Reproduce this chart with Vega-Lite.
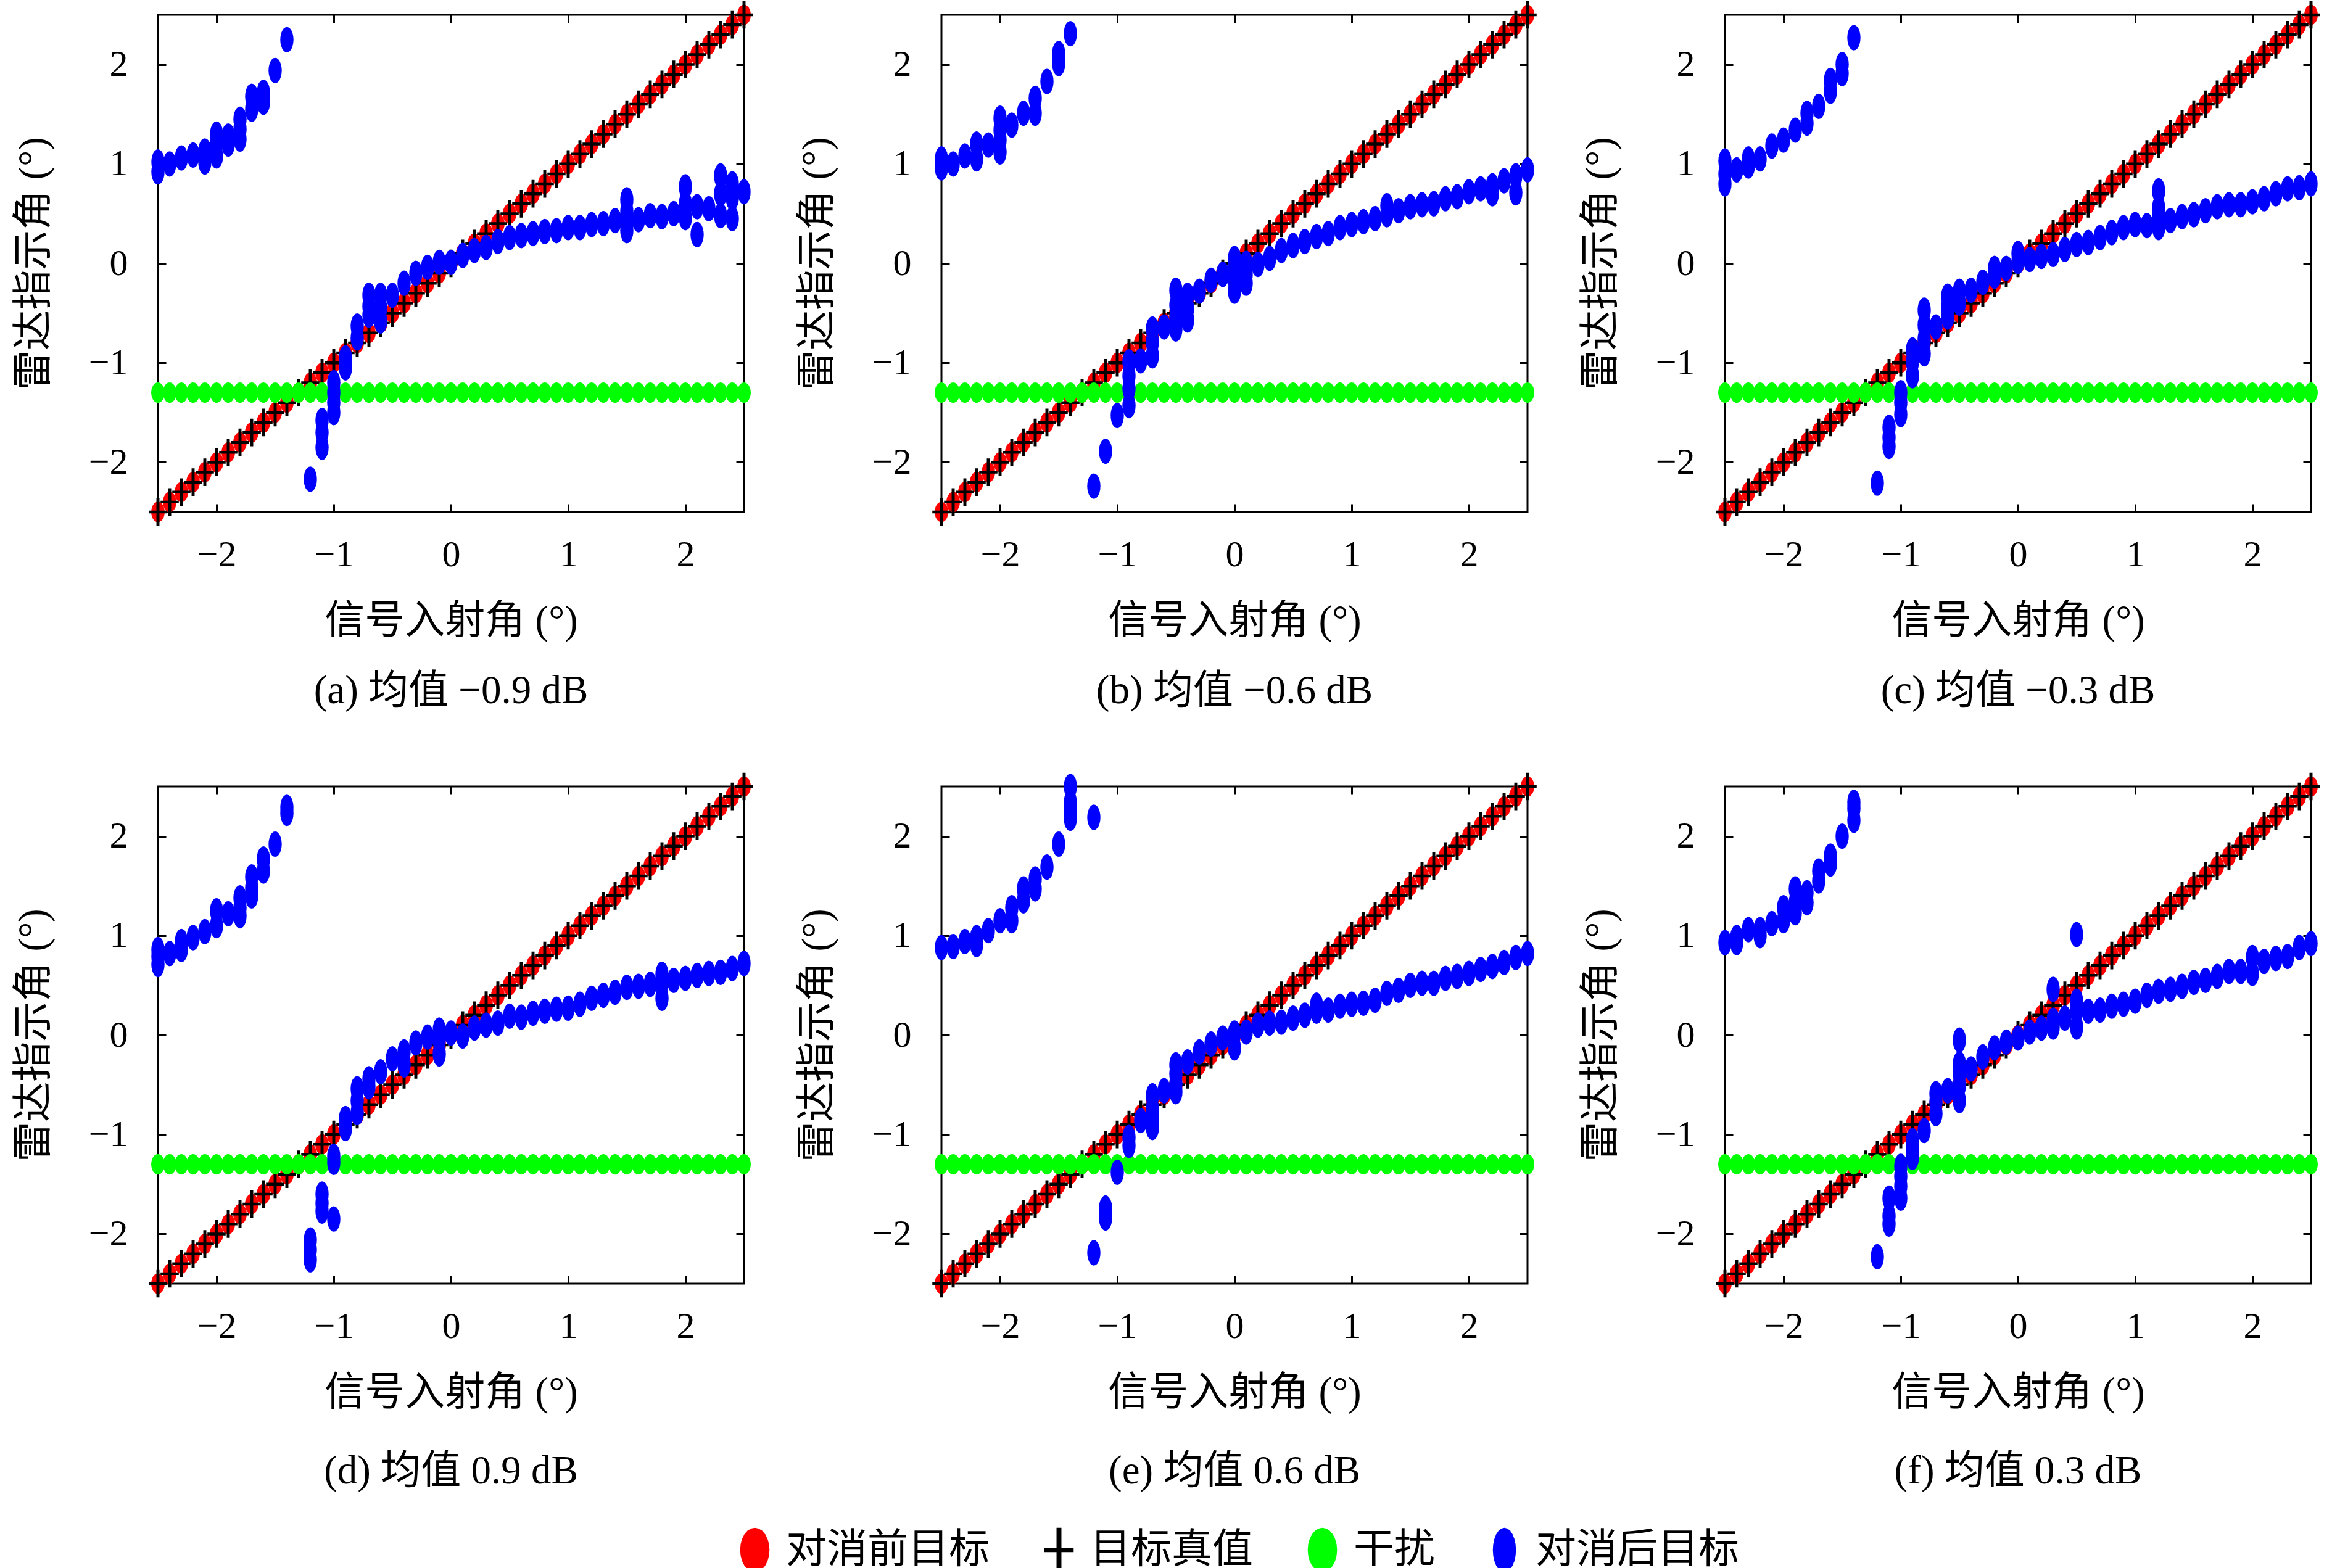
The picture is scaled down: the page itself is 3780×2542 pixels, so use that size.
{
  "$schema": "https://vega.github.io/schema/vega-lite/v6.json",
  "background": "white",
  "padding": {"left": 20, "top": 0, "right": 20, "bottom": 10},
  "columns": 3,
  "spacing": {"row": 445, "column": 320},
  "bounds": "flush",
  "datasets": {
    "diag": [
      {"x":-2.5,"y":-2.5},{"x":-2.4,"y":-2.4},{"x":-2.3,"y":-2.3},{"x":-2.2,"y":-2.2},{"x":-2.1,"y":-2.1},
      {"x":-2.0,"y":-2.0},{"x":-1.9,"y":-1.9},{"x":-1.8,"y":-1.8},{"x":-1.7,"y":-1.7},{"x":-1.6,"y":-1.6},
      {"x":-1.5,"y":-1.5},{"x":-1.4,"y":-1.4},{"x":-1.3,"y":-1.3},{"x":-1.2,"y":-1.2},{"x":-1.1,"y":-1.1},
      {"x":-1.0,"y":-1.0},{"x":-0.9,"y":-0.9},{"x":-0.8,"y":-0.8},{"x":-0.7,"y":-0.7},{"x":-0.6,"y":-0.6},
      {"x":-0.5,"y":-0.5},{"x":-0.4,"y":-0.4},{"x":-0.3,"y":-0.3},{"x":-0.2,"y":-0.2},{"x":-0.1,"y":-0.1},
      {"x":0.0,"y":0.0},
      {"x":0.1,"y":0.1},{"x":0.2,"y":0.2},{"x":0.3,"y":0.3},{"x":0.4,"y":0.4},{"x":0.5,"y":0.5},
      {"x":0.6,"y":0.6},{"x":0.7,"y":0.7},{"x":0.8,"y":0.8},{"x":0.9,"y":0.9},{"x":1.0,"y":1.0},
      {"x":1.1,"y":1.1},{"x":1.2,"y":1.2},{"x":1.3,"y":1.3},{"x":1.4,"y":1.4},{"x":1.5,"y":1.5},
      {"x":1.6,"y":1.6},{"x":1.7,"y":1.7},{"x":1.8,"y":1.8},{"x":1.9,"y":1.9},{"x":2.0,"y":2.0},
      {"x":2.1,"y":2.1},{"x":2.2,"y":2.2},{"x":2.3,"y":2.3},{"x":2.4,"y":2.4},{"x":2.5,"y":2.5}
    ],
    "jam": [
      {"x":-2.5,"y":-1.3},{"x":-2.4,"y":-1.3},{"x":-2.3,"y":-1.3},{"x":-2.2,"y":-1.3},{"x":-2.1,"y":-1.3},
      {"x":-2.0,"y":-1.3},{"x":-1.9,"y":-1.3},{"x":-1.8,"y":-1.3},{"x":-1.7,"y":-1.3},{"x":-1.6,"y":-1.3},
      {"x":-1.5,"y":-1.3},{"x":-1.4,"y":-1.3},{"x":-1.3,"y":-1.3},{"x":-1.2,"y":-1.3},{"x":-1.1,"y":-1.3},
      {"x":-1.0,"y":-1.3},{"x":-0.9,"y":-1.3},{"x":-0.8,"y":-1.3},{"x":-0.7,"y":-1.3},{"x":-0.6,"y":-1.3},
      {"x":-0.5,"y":-1.3},{"x":-0.4,"y":-1.3},{"x":-0.3,"y":-1.3},{"x":-0.2,"y":-1.3},{"x":-0.1,"y":-1.3},
      {"x":0.0,"y":-1.3},
      {"x":0.1,"y":-1.3},{"x":0.2,"y":-1.3},{"x":0.3,"y":-1.3},{"x":0.4,"y":-1.3},{"x":0.5,"y":-1.3},
      {"x":0.6,"y":-1.3},{"x":0.7,"y":-1.3},{"x":0.8,"y":-1.3},{"x":0.9,"y":-1.3},{"x":1.0,"y":-1.3},
      {"x":1.1,"y":-1.3},{"x":1.2,"y":-1.3},{"x":1.3,"y":-1.3},{"x":1.4,"y":-1.3},{"x":1.5,"y":-1.3},
      {"x":1.6,"y":-1.3},{"x":1.7,"y":-1.3},{"x":1.8,"y":-1.3},{"x":1.9,"y":-1.3},{"x":2.0,"y":-1.3},
      {"x":2.1,"y":-1.3},{"x":2.2,"y":-1.3},{"x":2.3,"y":-1.3},{"x":2.4,"y":-1.3},{"x":2.5,"y":-1.3}
    ],
    "a": [
      {"x":-2.5,"y":1.02},{"x":-2.5,"y":0.92},{"x":-2.4,"y":1.0},{"x":-2.3,"y":1.06},{"x":-2.2,"y":1.09},
      {"x":-2.1,"y":1.13},{"x":-2.1,"y":1.02},{"x":-2.0,"y":1.3},{"x":-2.0,"y":1.2},{"x":-2.0,"y":1.08},
      {"x":-1.9,"y":1.28},{"x":-1.9,"y":1.2},{"x":-1.8,"y":1.45},{"x":-1.8,"y":1.35},{"x":-1.8,"y":1.25},
      {"x":-1.7,"y":1.68},{"x":-1.7,"y":1.55},{"x":-1.6,"y":1.72},{"x":-1.6,"y":1.62},{"x":-1.5,"y":1.94},
      {"x":-1.4,"y":2.25},
      {"x":-1.2,"y":-2.17},{"x":-1.1,"y":-1.58},{"x":-1.1,"y":-1.7},{"x":-1.1,"y":-1.85},
      {"x":-1.0,"y":-1.2},{"x":-1.0,"y":-1.3},{"x":-1.0,"y":-1.4},{"x":-1.0,"y":-1.5},
      {"x":-0.9,"y":-0.95},{"x":-0.9,"y":-1.05},{"x":-0.8,"y":-0.63},{"x":-0.8,"y":-0.75},
      {"x":-0.7,"y":-0.32},{"x":-0.7,"y":-0.43},{"x":-0.7,"y":-0.52},
      {"x":-0.6,"y":-0.32},{"x":-0.6,"y":-0.45},{"x":-0.6,"y":-0.58},
      {"x":-0.5,"y":-0.32},{"x":-0.4,"y":-0.2},{"x":-0.3,"y":-0.1},{"x":-0.2,"y":-0.04},{"x":-0.1,"y":0.01},
      {"x":0.0,"y":0.01},{"x":0.1,"y":0.08},{"x":0.2,"y":0.13},{"x":0.3,"y":0.16},{"x":0.4,"y":0.22},
      {"x":0.5,"y":0.26},{"x":0.6,"y":0.28},{"x":0.7,"y":0.3},{"x":0.8,"y":0.32},{"x":0.9,"y":0.33},
      {"x":1.0,"y":0.36},{"x":1.1,"y":0.36},{"x":1.2,"y":0.39},{"x":1.3,"y":0.4},{"x":1.4,"y":0.43},
      {"x":1.5,"y":0.64},{"x":1.5,"y":0.52},{"x":1.5,"y":0.42},{"x":1.5,"y":0.33},
      {"x":1.6,"y":0.44},{"x":1.7,"y":0.48},{"x":1.8,"y":0.47},{"x":1.9,"y":0.5},
      {"x":2.0,"y":0.77},{"x":2.0,"y":0.6},{"x":2.0,"y":0.46},{"x":2.1,"y":0.57},{"x":2.1,"y":0.29},
      {"x":2.2,"y":0.55},{"x":2.3,"y":0.88},{"x":2.3,"y":0.7},{"x":2.3,"y":0.48},
      {"x":2.4,"y":0.8},{"x":2.4,"y":0.66},{"x":2.4,"y":0.45},{"x":2.5,"y":0.72}
    ],
    "b": [
      {"x":-2.5,"y":1.05},{"x":-2.5,"y":0.96},{"x":-2.4,"y":1.0},{"x":-2.3,"y":1.08},{"x":-2.2,"y":1.2},
      {"x":-2.2,"y":1.05},{"x":-2.1,"y":1.19},{"x":-2.0,"y":1.46},{"x":-2.0,"y":1.34},{"x":-2.0,"y":1.24},
      {"x":-2.0,"y":1.12},{"x":-1.9,"y":1.39},{"x":-1.8,"y":1.51},{"x":-1.7,"y":1.66},{"x":-1.7,"y":1.51},
      {"x":-1.6,"y":1.83},{"x":-1.5,"y":2.11},{"x":-1.5,"y":2.01},{"x":-1.4,"y":2.31},
      {"x":-1.2,"y":-2.24},{"x":-1.1,"y":-1.89},{"x":-1.0,"y":-1.53},
      {"x":-0.9,"y":-0.99},{"x":-0.9,"y":-1.13},{"x":-0.9,"y":-1.26},{"x":-0.9,"y":-1.43},
      {"x":-0.8,"y":-0.98},{"x":-0.7,"y":-0.66},{"x":-0.7,"y":-0.79},{"x":-0.7,"y":-0.93},
      {"x":-0.6,"y":-0.64},{"x":-0.5,"y":-0.27},{"x":-0.5,"y":-0.42},{"x":-0.5,"y":-0.54},{"x":-0.5,"y":-0.66},
      {"x":-0.4,"y":-0.32},{"x":-0.4,"y":-0.45},{"x":-0.4,"y":-0.57},{"x":-0.3,"y":-0.28},
      {"x":-0.2,"y":-0.17},{"x":-0.1,"y":-0.11},
      {"x":0.0,"y":0.05},{"x":0.0,"y":-0.05},{"x":0.0,"y":-0.17},{"x":0.0,"y":-0.28},
      {"x":0.1,"y":0.0},{"x":0.1,"y":-0.11},{"x":0.1,"y":-0.2},{"x":0.2,"y":-0.01},{"x":0.3,"y":0.05},
      {"x":0.4,"y":0.13},{"x":0.5,"y":0.18},{"x":0.6,"y":0.22},{"x":0.7,"y":0.27},{"x":0.8,"y":0.3},
      {"x":0.9,"y":0.36},{"x":1.0,"y":0.39},{"x":1.1,"y":0.42},{"x":1.2,"y":0.45},{"x":1.3,"y":0.58},
      {"x":1.3,"y":0.49},{"x":1.4,"y":0.53},{"x":1.5,"y":0.57},{"x":1.6,"y":0.59},{"x":1.7,"y":0.6},
      {"x":1.8,"y":0.65},{"x":1.9,"y":0.67},{"x":2.0,"y":0.72},{"x":2.1,"y":0.75},{"x":2.2,"y":0.78},
      {"x":2.2,"y":0.7},{"x":2.3,"y":0.83},{"x":2.4,"y":0.88},{"x":2.4,"y":0.71},{"x":2.5,"y":0.94}
    ],
    "c": [
      {"x":-2.5,"y":1.03},{"x":-2.5,"y":0.9},{"x":-2.5,"y":0.8},{"x":-2.4,"y":0.94},{"x":-2.3,"y":1.05},
      {"x":-2.3,"y":0.98},{"x":-2.2,"y":1.05},{"x":-2.1,"y":1.18},{"x":-2.0,"y":1.24},{"x":-1.9,"y":1.34},
      {"x":-1.8,"y":1.51},{"x":-1.8,"y":1.41},{"x":-1.7,"y":1.58},{"x":-1.6,"y":1.84},{"x":-1.6,"y":1.73},
      {"x":-1.5,"y":2.0},{"x":-1.5,"y":1.91},{"x":-1.4,"y":2.27},
      {"x":-1.2,"y":-2.21},{"x":-1.1,"y":-1.65},{"x":-1.1,"y":-1.75},{"x":-1.1,"y":-1.84},
      {"x":-1.0,"y":-1.3},{"x":-1.0,"y":-1.4},{"x":-1.0,"y":-1.52},
      {"x":-0.9,"y":-0.87},{"x":-0.9,"y":-0.99},{"x":-0.9,"y":-1.13},
      {"x":-0.8,"y":-0.47},{"x":-0.8,"y":-0.62},{"x":-0.8,"y":-0.76},{"x":-0.8,"y":-0.91},
      {"x":-0.7,"y":-0.64},{"x":-0.6,"y":-0.33},{"x":-0.6,"y":-0.44},{"x":-0.6,"y":-0.54},
      {"x":-0.5,"y":-0.28},{"x":-0.5,"y":-0.4},{"x":-0.4,"y":-0.27},{"x":-0.3,"y":-0.19},
      {"x":-0.2,"y":-0.05},{"x":-0.2,"y":-0.13},{"x":-0.1,"y":-0.05},{"x":0.0,"y":0.1},{"x":0.0,"y":0.02},
      {"x":0.1,"y":0.04},{"x":0.2,"y":0.07},{"x":0.3,"y":0.09},{"x":0.4,"y":0.14},{"x":0.5,"y":0.19},
      {"x":0.6,"y":0.21},{"x":0.7,"y":0.26},{"x":0.8,"y":0.31},{"x":0.9,"y":0.36},{"x":1.0,"y":0.39},
      {"x":1.1,"y":0.38},{"x":1.2,"y":0.73},{"x":1.2,"y":0.56},{"x":1.2,"y":0.46},{"x":1.2,"y":0.36},
      {"x":1.3,"y":0.43},{"x":1.4,"y":0.47},{"x":1.5,"y":0.49},{"x":1.6,"y":0.53},{"x":1.7,"y":0.57},
      {"x":1.8,"y":0.59},{"x":1.9,"y":0.59},{"x":2.0,"y":0.62},{"x":2.1,"y":0.65},{"x":2.2,"y":0.7},
      {"x":2.3,"y":0.75},{"x":2.4,"y":0.76},{"x":2.5,"y":0.8}
    ],
    "d": [
      {"x":-2.5,"y":0.86},{"x":-2.5,"y":0.79},{"x":-2.5,"y":0.71},{"x":-2.4,"y":0.82},{"x":-2.3,"y":0.94},
      {"x":-2.3,"y":0.86},{"x":-2.2,"y":0.98},{"x":-2.1,"y":1.04},{"x":-2.0,"y":1.25},{"x":-2.0,"y":1.1},
      {"x":-1.9,"y":1.22},{"x":-1.8,"y":1.38},{"x":-1.8,"y":1.28},{"x":-1.8,"y":1.2},{"x":-1.7,"y":1.59},
      {"x":-1.7,"y":1.48},{"x":-1.7,"y":1.4},{"x":-1.6,"y":1.77},{"x":-1.6,"y":1.65},{"x":-1.5,"y":1.92},
      {"x":-1.4,"y":2.29},{"x":-1.4,"y":2.23},
      {"x":-1.2,"y":-2.06},{"x":-1.2,"y":-2.16},{"x":-1.2,"y":-2.26},
      {"x":-1.1,"y":-1.6},{"x":-1.1,"y":-1.69},{"x":-1.1,"y":-1.77},
      {"x":-1.0,"y":-1.22},{"x":-1.0,"y":-1.28},{"x":-1.0,"y":-1.85},
      {"x":-0.9,"y":-0.84},{"x":-0.9,"y":-0.94},{"x":-0.8,"y":-0.54},{"x":-0.8,"y":-0.66},{"x":-0.8,"y":-0.78},
      {"x":-0.7,"y":-0.44},{"x":-0.7,"y":-0.52},{"x":-0.6,"y":-0.37},{"x":-0.5,"y":-0.24},
      {"x":-0.4,"y":-0.17},{"x":-0.4,"y":-0.3},{"x":-0.3,"y":-0.08},{"x":-0.2,"y":-0.02},
      {"x":-0.1,"y":0.05},{"x":-0.1,"y":-0.05},{"x":-0.1,"y":-0.19},{"x":0.0,"y":0.02},{"x":0.1,"y":-0.01},
      {"x":0.2,"y":0.07},{"x":0.3,"y":0.1},{"x":0.4,"y":0.12},{"x":0.5,"y":0.19},{"x":0.6,"y":0.18},
      {"x":0.7,"y":0.22},{"x":0.8,"y":0.24},{"x":0.9,"y":0.26},{"x":1.0,"y":0.27},{"x":1.1,"y":0.31},
      {"x":1.2,"y":0.37},{"x":1.3,"y":0.4},{"x":1.4,"y":0.43},{"x":1.5,"y":0.48},{"x":1.6,"y":0.49},
      {"x":1.7,"y":0.51},{"x":1.8,"y":0.61},{"x":1.8,"y":0.52},{"x":1.8,"y":0.37},{"x":1.9,"y":0.55},
      {"x":2.0,"y":0.57},{"x":2.1,"y":0.6},{"x":2.2,"y":0.62},{"x":2.3,"y":0.63},{"x":2.4,"y":0.67},
      {"x":2.5,"y":0.72}
    ],
    "e": [
      {"x":-2.5,"y":0.88},{"x":-2.4,"y":0.89},{"x":-2.3,"y":0.94},{"x":-2.2,"y":0.98},{"x":-2.2,"y":0.91},
      {"x":-2.1,"y":1.05},{"x":-2.0,"y":1.15},{"x":-1.9,"y":1.28},{"x":-1.9,"y":1.15},{"x":-1.8,"y":1.47},
      {"x":-1.8,"y":1.35},{"x":-1.7,"y":1.57},{"x":-1.7,"y":1.47},{"x":-1.6,"y":1.69},{"x":-1.5,"y":1.92},
      {"x":-1.4,"y":2.5},{"x":-1.4,"y":2.34},{"x":-1.4,"y":2.26},{"x":-1.4,"y":2.18},{"x":-1.2,"y":2.19},
      {"x":-1.2,"y":-2.19},{"x":-1.1,"y":-1.74},{"x":-1.1,"y":-1.84},{"x":-1.0,"y":-1.38},
      {"x":-0.9,"y":-1.03},{"x":-0.9,"y":-1.11},{"x":-0.8,"y":-0.86},
      {"x":-0.7,"y":-0.61},{"x":-0.7,"y":-0.74},{"x":-0.7,"y":-0.84},{"x":-0.7,"y":-0.93},
      {"x":-0.6,"y":-0.56},{"x":-0.5,"y":-0.3},{"x":-0.5,"y":-0.39},{"x":-0.5,"y":-0.49},{"x":-0.5,"y":-0.57},
      {"x":-0.4,"y":-0.27},{"x":-0.3,"y":-0.17},{"x":-0.2,"y":-0.09},{"x":-0.1,"y":-0.03},
      {"x":0.0,"y":0.02},{"x":0.0,"y":-0.13},{"x":0.1,"y":0.03},{"x":0.2,"y":0.1},{"x":0.3,"y":0.12},
      {"x":0.4,"y":0.13},{"x":0.5,"y":0.17},{"x":0.6,"y":0.2},{"x":0.7,"y":0.3},{"x":0.7,"y":0.24},
      {"x":0.8,"y":0.25},{"x":0.9,"y":0.29},{"x":1.0,"y":0.31},{"x":1.1,"y":0.32},{"x":1.2,"y":0.35},
      {"x":1.3,"y":0.42},{"x":1.4,"y":0.45},{"x":1.5,"y":0.5},{"x":1.6,"y":0.52},{"x":1.7,"y":0.52},
      {"x":1.8,"y":0.57},{"x":1.9,"y":0.59},{"x":2.0,"y":0.62},{"x":2.1,"y":0.66},{"x":2.2,"y":0.69},
      {"x":2.3,"y":0.73},{"x":2.4,"y":0.78},{"x":2.5,"y":0.82}
    ],
    "f": [
      {"x":-2.5,"y":0.93},{"x":-2.4,"y":0.98},{"x":-2.4,"y":0.93},{"x":-2.3,"y":1.06},{"x":-2.2,"y":1.06},
      {"x":-2.2,"y":1.0},{"x":-2.1,"y":1.12},{"x":-2.0,"y":1.28},{"x":-2.0,"y":1.15},{"x":-1.9,"y":1.47},
      {"x":-1.9,"y":1.33},{"x":-1.9,"y":1.23},{"x":-1.8,"y":1.43},{"x":-1.8,"y":1.33},{"x":-1.7,"y":1.65},
      {"x":-1.7,"y":1.55},{"x":-1.6,"y":1.8},{"x":-1.6,"y":1.72},{"x":-1.5,"y":2.0},{"x":-1.4,"y":2.34},
      {"x":-1.4,"y":2.28},{"x":-1.4,"y":2.16},
      {"x":-1.2,"y":-2.23},{"x":-1.1,"y":-1.64},{"x":-1.1,"y":-1.82},{"x":-1.1,"y":-1.9},
      {"x":-1.0,"y":-1.32},{"x":-1.0,"y":-1.42},{"x":-1.0,"y":-1.52},{"x":-1.0,"y":-1.64},
      {"x":-0.9,"y":-1.06},{"x":-0.9,"y":-1.15},{"x":-0.9,"y":-1.23},{"x":-0.8,"y":-0.96},
      {"x":-0.7,"y":-0.59},{"x":-0.7,"y":-0.67},{"x":-0.7,"y":-0.79},{"x":-0.6,"y":-0.56},
      {"x":-0.5,"y":-0.05},{"x":-0.5,"y":-0.29},{"x":-0.5,"y":-0.39},{"x":-0.5,"y":-0.51},{"x":-0.5,"y":-0.66},
      {"x":-0.4,"y":-0.34},{"x":-0.3,"y":-0.22},{"x":-0.2,"y":-0.13},{"x":-0.1,"y":-0.07},{"x":0.0,"y":-0.03},
      {"x":0.1,"y":0.03},{"x":0.2,"y":0.07},{"x":0.3,"y":0.46},{"x":0.3,"y":0.15},{"x":0.3,"y":0.08},
      {"x":0.4,"y":0.17},{"x":0.5,"y":1.01},{"x":0.5,"y":0.34},{"x":0.5,"y":0.24},{"x":0.5,"y":0.08},
      {"x":0.6,"y":0.24},{"x":0.7,"y":0.25},{"x":0.8,"y":0.29},{"x":0.9,"y":0.31},{"x":1.0,"y":0.34},
      {"x":1.1,"y":0.4},{"x":1.2,"y":0.44},{"x":1.3,"y":0.46},{"x":1.4,"y":0.49},{"x":1.5,"y":0.53},
      {"x":1.6,"y":0.55},{"x":1.7,"y":0.59},{"x":1.8,"y":0.64},{"x":1.9,"y":0.64},{"x":2.0,"y":0.78},
      {"x":2.0,"y":0.62},{"x":2.1,"y":0.74},{"x":2.2,"y":0.77},{"x":2.3,"y":0.79},{"x":2.4,"y":0.88},
      {"x":2.5,"y":0.92}
    ]
  },
  "concat": [
    {
      "width": 950, "height": 806,
      "title": {"text": "(a) 均值 −0.9 dB", "orient": "bottom", "anchor": "middle"},
      "resolve": {"axis": {"x": "independent", "y": "independent"}},
      "layer": [
        {"data": {"name": "diag"}, "mark": {"type": "point", "filled": true, "opacity": 1, "size": 1100},
         "encoding": {
           "x": {"field": "x", "type": "quantitative", "scale": {"domain": [-2.5, 2.5], "nice": false, "zero": false}, "axis": {"orient": "bottom", "title": "信号入射角 (°)", "values": [-2, -1, 0, 1, 2]}},
           "y": {"field": "y", "type": "quantitative", "scale": {"domain": [-2.5, 2.5], "nice": false, "zero": false}, "axis": {"orient": "left", "title": "雷达指示角 (°)", "values": [-2, -1, 0, 1, 2]}},
           "color": {"datum": "对消前目标", "type": "nominal", "scale": {"domain": ["对消前目标", "目标真值", "干扰", "对消后目标"], "range": ["#ff0000", "#000000", "#00ff00", "#0000ff"]}, "legend": {"title": null, "legendX": 931, "legendY": 2452, "symbolSize": 5200}},
           "shape": {"datum": "对消前目标", "type": "nominal", "scale": {"domain": ["对消前目标", "目标真值", "干扰", "对消后目标"], "range": ["M0,-1L0.171,-0.966L0.33,-0.866L0.467,-0.707L0.572,-0.5L0.638,-0.259L0.66,0L0.638,0.259L0.572,0.5L0.467,0.707L0.33,0.866L0.171,0.966L0,1L-0.171,0.966L-0.33,0.866L-0.467,0.707L-0.572,0.5L-0.638,0.259L-0.66,0L-0.638,-0.259L-0.572,-0.5L-0.467,-0.707L-0.33,-0.866L-0.171,-0.966Z", "M-0.66,-0.1H-0.11V-1H0.11V-0.1H0.66V0.1H0.11V1H-0.11V0.1H-0.66Z", "M0,-1L0.171,-0.966L0.33,-0.866L0.467,-0.707L0.572,-0.5L0.638,-0.259L0.66,0L0.638,0.259L0.572,0.5L0.467,0.707L0.33,0.866L0.171,0.966L0,1L-0.171,0.966L-0.33,0.866L-0.467,0.707L-0.572,0.5L-0.638,0.259L-0.66,0L-0.638,-0.259L-0.572,-0.5L-0.467,-0.707L-0.33,-0.866L-0.171,-0.966Z", "M0,-1L0.135,-0.966L0.26,-0.866L0.368,-0.707L0.45,-0.5L0.502,-0.259L0.52,0L0.502,0.259L0.45,0.5L0.368,0.707L0.26,0.866L0.135,0.966L0,1L-0.135,0.966L-0.26,0.866L-0.368,0.707L-0.45,0.5L-0.502,0.259L-0.52,0L-0.502,-0.259L-0.45,-0.5L-0.368,-0.707L-0.26,-0.866L-0.135,-0.966Z"]}, "legend": {"title": null, "legendX": 931, "legendY": 2452, "symbolSize": 5200}}
         }},
        {"data": {"name": "diag"}, "mark": {"type": "point", "filled": true, "opacity": 1, "size": 2000},
         "encoding": {"x": {"field": "x", "type": "quantitative", "axis": null}, "y": {"field": "y", "type": "quantitative", "axis": null},
           "color": {"datum": "目标真值", "type": "nominal"}, "shape": {"datum": "目标真值", "type": "nominal"}}},
        {"data": {"name": "jam"}, "mark": {"type": "point", "filled": true, "opacity": 1, "size": 1100},
         "encoding": {"x": {"field": "x", "type": "quantitative", "axis": null}, "y": {"field": "y", "type": "quantitative", "axis": null},
           "color": {"datum": "干扰", "type": "nominal"}, "shape": {"datum": "干扰", "type": "nominal"}}},
        {"data": {"name": "a"}, "mark": {"type": "point", "filled": true, "opacity": 1, "size": 1700},
         "encoding": {"x": {"field": "x", "type": "quantitative", "axis": {"orient": "top", "labels": false, "title": null, "values": [-2, -1, 0, 1, 2]}}, "y": {"field": "y", "type": "quantitative", "axis": {"orient": "right", "labels": false, "title": null, "values": [-2, -1, 0, 1, 2]}},
           "color": {"datum": "对消后目标", "type": "nominal"}, "shape": {"datum": "对消后目标", "type": "nominal"}}}
      ]
    },
    {
      "width": 950, "height": 806,
      "title": {"text": "(b) 均值 −0.6 dB", "orient": "bottom", "anchor": "middle"},
      "resolve": {"axis": {"x": "independent", "y": "independent"}},
      "layer": [
        {"data": {"name": "diag"}, "mark": {"type": "point", "filled": true, "opacity": 1, "size": 1100},
         "encoding": {
           "x": {"field": "x", "type": "quantitative", "scale": {"domain": [-2.5, 2.5], "nice": false, "zero": false}, "axis": {"orient": "bottom", "title": "信号入射角 (°)", "values": [-2, -1, 0, 1, 2]}},
           "y": {"field": "y", "type": "quantitative", "scale": {"domain": [-2.5, 2.5], "nice": false, "zero": false}, "axis": {"orient": "left", "title": "雷达指示角 (°)", "values": [-2, -1, 0, 1, 2]}},
           "color": {"datum": "对消前目标", "type": "nominal", "scale": {"domain": ["对消前目标", "目标真值", "干扰", "对消后目标"], "range": ["#ff0000", "#000000", "#00ff00", "#0000ff"]}},
           "shape": {"datum": "对消前目标", "type": "nominal", "scale": {"domain": ["对消前目标", "目标真值", "干扰", "对消后目标"], "range": ["M0,-1L0.171,-0.966L0.33,-0.866L0.467,-0.707L0.572,-0.5L0.638,-0.259L0.66,0L0.638,0.259L0.572,0.5L0.467,0.707L0.33,0.866L0.171,0.966L0,1L-0.171,0.966L-0.33,0.866L-0.467,0.707L-0.572,0.5L-0.638,0.259L-0.66,0L-0.638,-0.259L-0.572,-0.5L-0.467,-0.707L-0.33,-0.866L-0.171,-0.966Z", "M-0.66,-0.1H-0.11V-1H0.11V-0.1H0.66V0.1H0.11V1H-0.11V0.1H-0.66Z", "M0,-1L0.171,-0.966L0.33,-0.866L0.467,-0.707L0.572,-0.5L0.638,-0.259L0.66,0L0.638,0.259L0.572,0.5L0.467,0.707L0.33,0.866L0.171,0.966L0,1L-0.171,0.966L-0.33,0.866L-0.467,0.707L-0.572,0.5L-0.638,0.259L-0.66,0L-0.638,-0.259L-0.572,-0.5L-0.467,-0.707L-0.33,-0.866L-0.171,-0.966Z", "M0,-1L0.135,-0.966L0.26,-0.866L0.368,-0.707L0.45,-0.5L0.502,-0.259L0.52,0L0.502,0.259L0.45,0.5L0.368,0.707L0.26,0.866L0.135,0.966L0,1L-0.135,0.966L-0.26,0.866L-0.368,0.707L-0.45,0.5L-0.502,0.259L-0.52,0L-0.502,-0.259L-0.45,-0.5L-0.368,-0.707L-0.26,-0.866L-0.135,-0.966Z"]}}
         }},
        {"data": {"name": "diag"}, "mark": {"type": "point", "filled": true, "opacity": 1, "size": 2000},
         "encoding": {"x": {"field": "x", "type": "quantitative", "axis": null}, "y": {"field": "y", "type": "quantitative", "axis": null},
           "color": {"datum": "目标真值", "type": "nominal"}, "shape": {"datum": "目标真值", "type": "nominal"}}},
        {"data": {"name": "jam"}, "mark": {"type": "point", "filled": true, "opacity": 1, "size": 1100},
         "encoding": {"x": {"field": "x", "type": "quantitative", "axis": null}, "y": {"field": "y", "type": "quantitative", "axis": null},
           "color": {"datum": "干扰", "type": "nominal"}, "shape": {"datum": "干扰", "type": "nominal"}}},
        {"data": {"name": "b"}, "mark": {"type": "point", "filled": true, "opacity": 1, "size": 1700},
         "encoding": {"x": {"field": "x", "type": "quantitative", "axis": {"orient": "top", "labels": false, "title": null, "values": [-2, -1, 0, 1, 2]}}, "y": {"field": "y", "type": "quantitative", "axis": {"orient": "right", "labels": false, "title": null, "values": [-2, -1, 0, 1, 2]}},
           "color": {"datum": "对消后目标", "type": "nominal"}, "shape": {"datum": "对消后目标", "type": "nominal"}}}
      ]
    },
    {
      "width": 950, "height": 806,
      "title": {"text": "(c) 均值 −0.3 dB", "orient": "bottom", "anchor": "middle"},
      "resolve": {"axis": {"x": "independent", "y": "independent"}},
      "layer": [
        {"data": {"name": "diag"}, "mark": {"type": "point", "filled": true, "opacity": 1, "size": 1100},
         "encoding": {
           "x": {"field": "x", "type": "quantitative", "scale": {"domain": [-2.5, 2.5], "nice": false, "zero": false}, "axis": {"orient": "bottom", "title": "信号入射角 (°)", "values": [-2, -1, 0, 1, 2]}},
           "y": {"field": "y", "type": "quantitative", "scale": {"domain": [-2.5, 2.5], "nice": false, "zero": false}, "axis": {"orient": "left", "title": "雷达指示角 (°)", "values": [-2, -1, 0, 1, 2]}},
           "color": {"datum": "对消前目标", "type": "nominal", "scale": {"domain": ["对消前目标", "目标真值", "干扰", "对消后目标"], "range": ["#ff0000", "#000000", "#00ff00", "#0000ff"]}},
           "shape": {"datum": "对消前目标", "type": "nominal", "scale": {"domain": ["对消前目标", "目标真值", "干扰", "对消后目标"], "range": ["M0,-1L0.171,-0.966L0.33,-0.866L0.467,-0.707L0.572,-0.5L0.638,-0.259L0.66,0L0.638,0.259L0.572,0.5L0.467,0.707L0.33,0.866L0.171,0.966L0,1L-0.171,0.966L-0.33,0.866L-0.467,0.707L-0.572,0.5L-0.638,0.259L-0.66,0L-0.638,-0.259L-0.572,-0.5L-0.467,-0.707L-0.33,-0.866L-0.171,-0.966Z", "M-0.66,-0.1H-0.11V-1H0.11V-0.1H0.66V0.1H0.11V1H-0.11V0.1H-0.66Z", "M0,-1L0.171,-0.966L0.33,-0.866L0.467,-0.707L0.572,-0.5L0.638,-0.259L0.66,0L0.638,0.259L0.572,0.5L0.467,0.707L0.33,0.866L0.171,0.966L0,1L-0.171,0.966L-0.33,0.866L-0.467,0.707L-0.572,0.5L-0.638,0.259L-0.66,0L-0.638,-0.259L-0.572,-0.5L-0.467,-0.707L-0.33,-0.866L-0.171,-0.966Z", "M0,-1L0.135,-0.966L0.26,-0.866L0.368,-0.707L0.45,-0.5L0.502,-0.259L0.52,0L0.502,0.259L0.45,0.5L0.368,0.707L0.26,0.866L0.135,0.966L0,1L-0.135,0.966L-0.26,0.866L-0.368,0.707L-0.45,0.5L-0.502,0.259L-0.52,0L-0.502,-0.259L-0.45,-0.5L-0.368,-0.707L-0.26,-0.866L-0.135,-0.966Z"]}}
         }},
        {"data": {"name": "diag"}, "mark": {"type": "point", "filled": true, "opacity": 1, "size": 2000},
         "encoding": {"x": {"field": "x", "type": "quantitative", "axis": null}, "y": {"field": "y", "type": "quantitative", "axis": null},
           "color": {"datum": "目标真值", "type": "nominal"}, "shape": {"datum": "目标真值", "type": "nominal"}}},
        {"data": {"name": "jam"}, "mark": {"type": "point", "filled": true, "opacity": 1, "size": 1100},
         "encoding": {"x": {"field": "x", "type": "quantitative", "axis": null}, "y": {"field": "y", "type": "quantitative", "axis": null},
           "color": {"datum": "干扰", "type": "nominal"}, "shape": {"datum": "干扰", "type": "nominal"}}},
        {"data": {"name": "c"}, "mark": {"type": "point", "filled": true, "opacity": 1, "size": 1700},
         "encoding": {"x": {"field": "x", "type": "quantitative", "axis": {"orient": "top", "labels": false, "title": null, "values": [-2, -1, 0, 1, 2]}}, "y": {"field": "y", "type": "quantitative", "axis": {"orient": "right", "labels": false, "title": null, "values": [-2, -1, 0, 1, 2]}},
           "color": {"datum": "对消后目标", "type": "nominal"}, "shape": {"datum": "对消后目标", "type": "nominal"}}}
      ]
    },
    {
      "width": 950, "height": 806,
      "title": {"text": "(d) 均值 0.9 dB", "orient": "bottom", "anchor": "middle", "offset": 64},
      "resolve": {"axis": {"x": "independent", "y": "independent"}},
      "layer": [
        {"data": {"name": "diag"}, "mark": {"type": "point", "filled": true, "opacity": 1, "size": 1100},
         "encoding": {
           "x": {"field": "x", "type": "quantitative", "scale": {"domain": [-2.5, 2.5], "nice": false, "zero": false}, "axis": {"orient": "bottom", "title": "信号入射角 (°)", "values": [-2, -1, 0, 1, 2]}},
           "y": {"field": "y", "type": "quantitative", "scale": {"domain": [-2.5, 2.5], "nice": false, "zero": false}, "axis": {"orient": "left", "title": "雷达指示角 (°)", "values": [-2, -1, 0, 1, 2]}},
           "color": {"datum": "对消前目标", "type": "nominal", "scale": {"domain": ["对消前目标", "目标真值", "干扰", "对消后目标"], "range": ["#ff0000", "#000000", "#00ff00", "#0000ff"]}},
           "shape": {"datum": "对消前目标", "type": "nominal", "scale": {"domain": ["对消前目标", "目标真值", "干扰", "对消后目标"], "range": ["M0,-1L0.171,-0.966L0.33,-0.866L0.467,-0.707L0.572,-0.5L0.638,-0.259L0.66,0L0.638,0.259L0.572,0.5L0.467,0.707L0.33,0.866L0.171,0.966L0,1L-0.171,0.966L-0.33,0.866L-0.467,0.707L-0.572,0.5L-0.638,0.259L-0.66,0L-0.638,-0.259L-0.572,-0.5L-0.467,-0.707L-0.33,-0.866L-0.171,-0.966Z", "M-0.66,-0.1H-0.11V-1H0.11V-0.1H0.66V0.1H0.11V1H-0.11V0.1H-0.66Z", "M0,-1L0.171,-0.966L0.33,-0.866L0.467,-0.707L0.572,-0.5L0.638,-0.259L0.66,0L0.638,0.259L0.572,0.5L0.467,0.707L0.33,0.866L0.171,0.966L0,1L-0.171,0.966L-0.33,0.866L-0.467,0.707L-0.572,0.5L-0.638,0.259L-0.66,0L-0.638,-0.259L-0.572,-0.5L-0.467,-0.707L-0.33,-0.866L-0.171,-0.966Z", "M0,-1L0.135,-0.966L0.26,-0.866L0.368,-0.707L0.45,-0.5L0.502,-0.259L0.52,0L0.502,0.259L0.45,0.5L0.368,0.707L0.26,0.866L0.135,0.966L0,1L-0.135,0.966L-0.26,0.866L-0.368,0.707L-0.45,0.5L-0.502,0.259L-0.52,0L-0.502,-0.259L-0.45,-0.5L-0.368,-0.707L-0.26,-0.866L-0.135,-0.966Z"]}}
         }},
        {"data": {"name": "diag"}, "mark": {"type": "point", "filled": true, "opacity": 1, "size": 2000},
         "encoding": {"x": {"field": "x", "type": "quantitative", "axis": null}, "y": {"field": "y", "type": "quantitative", "axis": null},
           "color": {"datum": "目标真值", "type": "nominal"}, "shape": {"datum": "目标真值", "type": "nominal"}}},
        {"data": {"name": "jam"}, "mark": {"type": "point", "filled": true, "opacity": 1, "size": 1100},
         "encoding": {"x": {"field": "x", "type": "quantitative", "axis": null}, "y": {"field": "y", "type": "quantitative", "axis": null},
           "color": {"datum": "干扰", "type": "nominal"}, "shape": {"datum": "干扰", "type": "nominal"}}},
        {"data": {"name": "d"}, "mark": {"type": "point", "filled": true, "opacity": 1, "size": 1700},
         "encoding": {"x": {"field": "x", "type": "quantitative", "axis": {"orient": "top", "labels": false, "title": null, "values": [-2, -1, 0, 1, 2]}}, "y": {"field": "y", "type": "quantitative", "axis": {"orient": "right", "labels": false, "title": null, "values": [-2, -1, 0, 1, 2]}},
           "color": {"datum": "对消后目标", "type": "nominal"}, "shape": {"datum": "对消后目标", "type": "nominal"}}}
      ]
    },
    {
      "width": 950, "height": 806,
      "title": {"text": "(e) 均值 0.6 dB", "orient": "bottom", "anchor": "middle", "offset": 64},
      "resolve": {"axis": {"x": "independent", "y": "independent"}},
      "layer": [
        {"data": {"name": "diag"}, "mark": {"type": "point", "filled": true, "opacity": 1, "size": 1100},
         "encoding": {
           "x": {"field": "x", "type": "quantitative", "scale": {"domain": [-2.5, 2.5], "nice": false, "zero": false}, "axis": {"orient": "bottom", "title": "信号入射角 (°)", "values": [-2, -1, 0, 1, 2]}},
           "y": {"field": "y", "type": "quantitative", "scale": {"domain": [-2.5, 2.5], "nice": false, "zero": false}, "axis": {"orient": "left", "title": "雷达指示角 (°)", "values": [-2, -1, 0, 1, 2]}},
           "color": {"datum": "对消前目标", "type": "nominal", "scale": {"domain": ["对消前目标", "目标真值", "干扰", "对消后目标"], "range": ["#ff0000", "#000000", "#00ff00", "#0000ff"]}},
           "shape": {"datum": "对消前目标", "type": "nominal", "scale": {"domain": ["对消前目标", "目标真值", "干扰", "对消后目标"], "range": ["M0,-1L0.171,-0.966L0.33,-0.866L0.467,-0.707L0.572,-0.5L0.638,-0.259L0.66,0L0.638,0.259L0.572,0.5L0.467,0.707L0.33,0.866L0.171,0.966L0,1L-0.171,0.966L-0.33,0.866L-0.467,0.707L-0.572,0.5L-0.638,0.259L-0.66,0L-0.638,-0.259L-0.572,-0.5L-0.467,-0.707L-0.33,-0.866L-0.171,-0.966Z", "M-0.66,-0.1H-0.11V-1H0.11V-0.1H0.66V0.1H0.11V1H-0.11V0.1H-0.66Z", "M0,-1L0.171,-0.966L0.33,-0.866L0.467,-0.707L0.572,-0.5L0.638,-0.259L0.66,0L0.638,0.259L0.572,0.5L0.467,0.707L0.33,0.866L0.171,0.966L0,1L-0.171,0.966L-0.33,0.866L-0.467,0.707L-0.572,0.5L-0.638,0.259L-0.66,0L-0.638,-0.259L-0.572,-0.5L-0.467,-0.707L-0.33,-0.866L-0.171,-0.966Z", "M0,-1L0.135,-0.966L0.26,-0.866L0.368,-0.707L0.45,-0.5L0.502,-0.259L0.52,0L0.502,0.259L0.45,0.5L0.368,0.707L0.26,0.866L0.135,0.966L0,1L-0.135,0.966L-0.26,0.866L-0.368,0.707L-0.45,0.5L-0.502,0.259L-0.52,0L-0.502,-0.259L-0.45,-0.5L-0.368,-0.707L-0.26,-0.866L-0.135,-0.966Z"]}}
         }},
        {"data": {"name": "diag"}, "mark": {"type": "point", "filled": true, "opacity": 1, "size": 2000},
         "encoding": {"x": {"field": "x", "type": "quantitative", "axis": null}, "y": {"field": "y", "type": "quantitative", "axis": null},
           "color": {"datum": "目标真值", "type": "nominal"}, "shape": {"datum": "目标真值", "type": "nominal"}}},
        {"data": {"name": "jam"}, "mark": {"type": "point", "filled": true, "opacity": 1, "size": 1100},
         "encoding": {"x": {"field": "x", "type": "quantitative", "axis": null}, "y": {"field": "y", "type": "quantitative", "axis": null},
           "color": {"datum": "干扰", "type": "nominal"}, "shape": {"datum": "干扰", "type": "nominal"}}},
        {"data": {"name": "e"}, "mark": {"type": "point", "filled": true, "opacity": 1, "size": 1700},
         "encoding": {"x": {"field": "x", "type": "quantitative", "axis": {"orient": "top", "labels": false, "title": null, "values": [-2, -1, 0, 1, 2]}}, "y": {"field": "y", "type": "quantitative", "axis": {"orient": "right", "labels": false, "title": null, "values": [-2, -1, 0, 1, 2]}},
           "color": {"datum": "对消后目标", "type": "nominal"}, "shape": {"datum": "对消后目标", "type": "nominal"}}}
      ]
    },
    {
      "width": 950, "height": 806,
      "title": {"text": "(f) 均值 0.3 dB", "orient": "bottom", "anchor": "middle", "offset": 64},
      "resolve": {"axis": {"x": "independent", "y": "independent"}},
      "layer": [
        {"data": {"name": "diag"}, "mark": {"type": "point", "filled": true, "opacity": 1, "size": 1100},
         "encoding": {
           "x": {"field": "x", "type": "quantitative", "scale": {"domain": [-2.5, 2.5], "nice": false, "zero": false}, "axis": {"orient": "bottom", "title": "信号入射角 (°)", "values": [-2, -1, 0, 1, 2]}},
           "y": {"field": "y", "type": "quantitative", "scale": {"domain": [-2.5, 2.5], "nice": false, "zero": false}, "axis": {"orient": "left", "title": "雷达指示角 (°)", "values": [-2, -1, 0, 1, 2]}},
           "color": {"datum": "对消前目标", "type": "nominal", "scale": {"domain": ["对消前目标", "目标真值", "干扰", "对消后目标"], "range": ["#ff0000", "#000000", "#00ff00", "#0000ff"]}},
           "shape": {"datum": "对消前目标", "type": "nominal", "scale": {"domain": ["对消前目标", "目标真值", "干扰", "对消后目标"], "range": ["M0,-1L0.171,-0.966L0.33,-0.866L0.467,-0.707L0.572,-0.5L0.638,-0.259L0.66,0L0.638,0.259L0.572,0.5L0.467,0.707L0.33,0.866L0.171,0.966L0,1L-0.171,0.966L-0.33,0.866L-0.467,0.707L-0.572,0.5L-0.638,0.259L-0.66,0L-0.638,-0.259L-0.572,-0.5L-0.467,-0.707L-0.33,-0.866L-0.171,-0.966Z", "M-0.66,-0.1H-0.11V-1H0.11V-0.1H0.66V0.1H0.11V1H-0.11V0.1H-0.66Z", "M0,-1L0.171,-0.966L0.33,-0.866L0.467,-0.707L0.572,-0.5L0.638,-0.259L0.66,0L0.638,0.259L0.572,0.5L0.467,0.707L0.33,0.866L0.171,0.966L0,1L-0.171,0.966L-0.33,0.866L-0.467,0.707L-0.572,0.5L-0.638,0.259L-0.66,0L-0.638,-0.259L-0.572,-0.5L-0.467,-0.707L-0.33,-0.866L-0.171,-0.966Z", "M0,-1L0.135,-0.966L0.26,-0.866L0.368,-0.707L0.45,-0.5L0.502,-0.259L0.52,0L0.502,0.259L0.45,0.5L0.368,0.707L0.26,0.866L0.135,0.966L0,1L-0.135,0.966L-0.26,0.866L-0.368,0.707L-0.45,0.5L-0.502,0.259L-0.52,0L-0.502,-0.259L-0.45,-0.5L-0.368,-0.707L-0.26,-0.866L-0.135,-0.966Z"]}}
         }},
        {"data": {"name": "diag"}, "mark": {"type": "point", "filled": true, "opacity": 1, "size": 2000},
         "encoding": {"x": {"field": "x", "type": "quantitative", "axis": null}, "y": {"field": "y", "type": "quantitative", "axis": null},
           "color": {"datum": "目标真值", "type": "nominal"}, "shape": {"datum": "目标真值", "type": "nominal"}}},
        {"data": {"name": "jam"}, "mark": {"type": "point", "filled": true, "opacity": 1, "size": 1100},
         "encoding": {"x": {"field": "x", "type": "quantitative", "axis": null}, "y": {"field": "y", "type": "quantitative", "axis": null},
           "color": {"datum": "干扰", "type": "nominal"}, "shape": {"datum": "干扰", "type": "nominal"}}},
        {"data": {"name": "f"}, "mark": {"type": "point", "filled": true, "opacity": 1, "size": 1700},
         "encoding": {"x": {"field": "x", "type": "quantitative", "axis": {"orient": "top", "labels": false, "title": null, "values": [-2, -1, 0, 1, 2]}}, "y": {"field": "y", "type": "quantitative", "axis": {"orient": "right", "labels": false, "title": null, "values": [-2, -1, 0, 1, 2]}},
           "color": {"datum": "对消后目标", "type": "nominal"}, "shape": {"datum": "对消后目标", "type": "nominal"}}}
      ]
    }
  ],
  "config": {
    "view": {"stroke": "#000000", "strokeWidth": 3},
    "axis": {
      "domain": false,
      "grid": false,
      "ticks": true,
      "tickSize": -13,
      "tickWidth": 3,
      "tickColor": "#000000",
      "labelFont": "Liberation Serif",
      "labelFontSize": 60,
      "labelColor": "#000000",
      "titleFont": "Liberation Serif, Noto Sans CJK SC",
      "titleFontSize": 65,
      "titleFontWeight": "normal",
      "titleColor": "#000000"
    },
    "axisX": {"labelPadding": 53, "titlePadding": 46},
    "axisY": {"labelPadding": 62, "titlePadding": 55},
    "title": {"font": "Liberation Serif, Noto Sans CJK SC", "fontSize": 65, "fontWeight": "normal", "color": "#000000", "offset": 50},
    "legend": {
      "orient": "none",
      "direction": "horizontal",
      "columns": 4,
      "symbolSize": 5200,
      "symbolStrokeWidth": 0,
      "symbolOpacity": 1,
      "labelFont": "Liberation Serif, Noto Sans CJK SC",
      "labelFontSize": 66,
      "labelColor": "#000000",
      "labelOffset": 14,
      "columnPadding": 76,
      "labelLimit": 1000
    }
  }
}
